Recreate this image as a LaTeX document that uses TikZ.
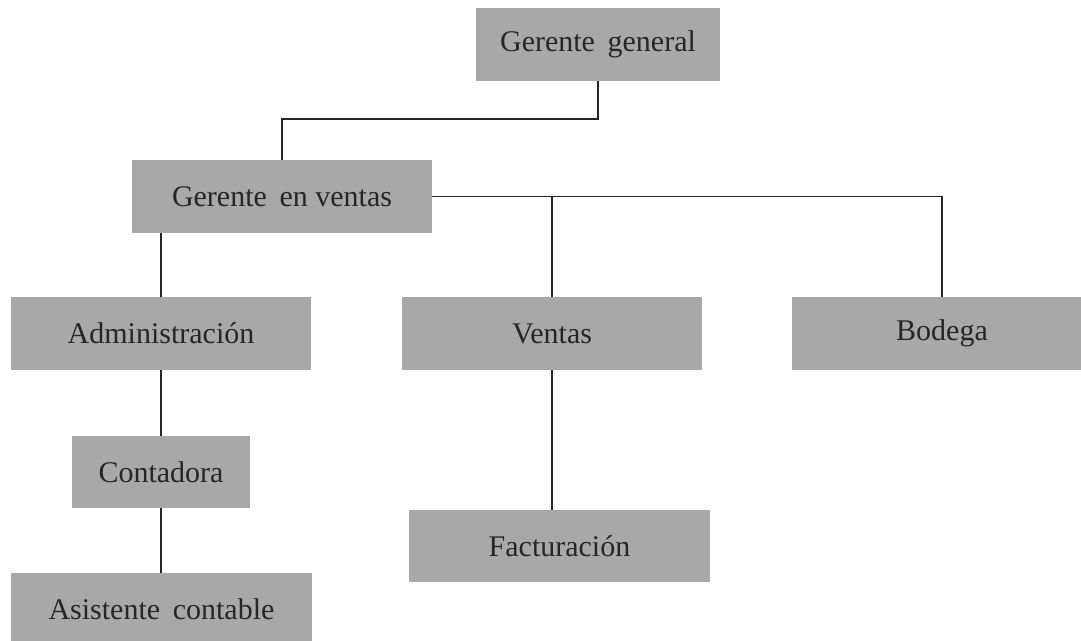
\documentclass[tikz,border=0pt]{standalone}
\usepackage{fontspec}
\setmainfont{Liberation Serif}
\definecolor{boxgray}{RGB}{168,168,168}
\newcommand{\wsp}{\hspace{0.42em}}
\tikzset{
  orgbox/.style={rectangle, fill=boxgray, draw=none, inner sep=0pt, font=\fontsize{30}{32}\selectfont, text=black!85},
  link/.style={draw=black!85, line width=1.4pt}
}
\begin{document}
\begin{tikzpicture}[x=1pt,y=-1pt]
\useasboundingbox (0,0) rectangle (1081,640);
\fill[white] (0,0) rectangle (1081,640);
\node[orgbox, minimum width=244pt, minimum height=73pt] (gg) at (598,44) {Gerente\wsp general};
\node[orgbox, minimum width=300pt, minimum height=73pt] (gv) at (282,196.5) {Gerente\wsp en ventas};
\node[orgbox, minimum width=300pt, minimum height=73pt] (adm) at (161,333.5) {Administración};
\node[orgbox, minimum width=300pt, minimum height=73pt] (ven) at (552,333.5) {Ventas};
\node[orgbox, minimum width=300pt, minimum height=73pt] (bod) at (942,333.5) {Bodega};
\node[orgbox, minimum width=178pt, minimum height=72pt] (con) at (161,472) {Contadora};
\node[orgbox, minimum width=301pt, minimum height=72pt] (fac) at (559.5,546) {Facturación};
\node[orgbox, minimum width=301pt, minimum height=72pt] (asi) at (161.5,609) {Asistente\wsp contable};
\coordinate (turn) at (598,119);
\draw[link] (gg.south) -- (turn) -| (gv.north);
\draw[link] (gv.east) -| (bod.north);
\draw[link] (ven.north) -- (ven.north |- gv.east);
\draw[link] (adm.north) -- (adm.north |- gv.south);
\draw[link] (adm.south) -- (con.north);
\draw[link] (con.south) -- (con.south |- asi.north);
\draw[link] (ven.south) -- (ven.south |- fac.north);
\end{tikzpicture}
\end{document}
